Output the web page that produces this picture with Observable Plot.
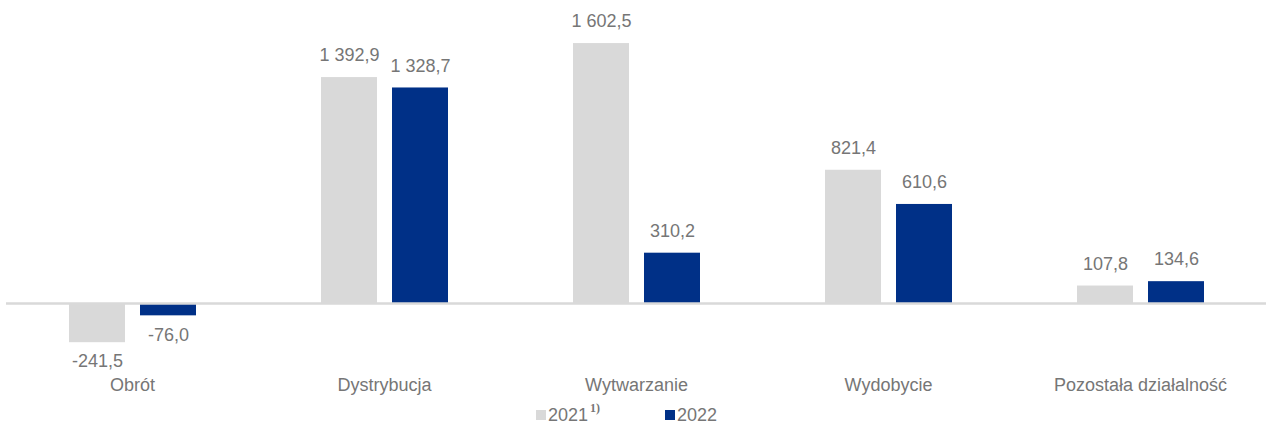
<!DOCTYPE html>
<html>
<head>
<meta charset="utf-8">
<script src="https://cdn.jsdelivr.net/npm/d3@7"></script>
<script src="https://cdn.jsdelivr.net/npm/@observablehq/plot@0.6"></script>
<style>
  html, body { margin: 0; padding: 0; background: #fff; }
  body { width: 1266px; height: 430px; overflow: hidden; font-family: "Liberation Sans", Arial, sans-serif; }
  #legend { position: relative; width: 1266px; height: 30px; color: #767676; font-size: 18px; }
  .item { position: absolute; top: 0; height: 30px; display: flex; align-items: center; }
  .sw { width: 10px; height: 10px; margin-right: 2px; }
  sup { font-family: "Liberation Serif", serif; font-weight: bold; font-size: 12px; position: relative; top: -7px; margin-left: 2px; }
</style>
</head>
<body>
<div id="chart"></div>
<div id="legend"></div>
<script>
const categories = ["Obrót", "Dystrybucja", "Wytwarzanie", "Wydobycie", "Pozostała działalność"];
const years = ["2021", "2022"];
const values2021 = [-241.5, 1392.9, 1602.5, 821.4, 107.8];
const values2022 = [-76.0, 1328.7, 310.2, 610.6, 134.6];
const colors = ["#D9D9D9", "#003087"];

const data = [];
categories.forEach((c, i) => {
  data.push({cat: c, year: years[0], value: values2021[i]});
  data.push({cat: c, year: years[1], value: values2022[i]});
});

const fmt = d3.formatLocale({decimal: ",", thousands: " ", grouping: [3], currency: ["", ""], minus: "-"}).format(",.1f");

const chart = Plot.plot({
  width: 1266,
  height: 400,
  marginLeft: 6,
  marginRight: 0,
  marginTop: 30,
  marginBottom: 30,
  style: {fontFamily: "'Liberation Sans', Arial, sans-serif", color: "#767676", background: "#fff"},
  fx: {domain: categories, padding: 0, label: null},
  x: {domain: years, paddingInner: 0.214, paddingOuter: 0.864, axis: null},
  y: {domain: [-413, 1683], axis: null},
  color: {domain: years, range: colors},
  marks: [
    Plot.barY(data, {fx: "cat", x: "year", y: "value", fill: "year"}),
    Plot.ruleY([0], {stroke: "#D9D9D9", strokeWidth: 2.5}),
    Plot.text(data.filter(d => d.value >= 0), {fx: "cat", x: "year", y: "value", text: d => fmt(d.value), dy: -22, fontSize: 18, fill: "#767676"}),
    Plot.text(data.filter(d => d.value < 0), {fx: "cat", x: "year", y: "value", text: d => fmt(d.value), dy: 19, fontSize: 18, fill: "#767676"}),
    Plot.axisFx({anchor: "bottom", tickSize: 0, tickPadding: 8, fontSize: 18, label: null, fill: "#767676"})
  ]
});
document.getElementById("chart").appendChild(chart);

const legend = document.getElementById("legend");
const lefts = [536, 665];
years.forEach((y, i) => {
  const it = document.createElement("div");
  it.className = "item";
  it.style.left = lefts[i] + "px";
  it.innerHTML = `<span class="sw" style="background:${colors[i]}"></span><span>${y}</span>` + (i === 0 ? "<sup>1)</sup>" : "");
  legend.appendChild(it);
});
</script>
</body>
</html>
